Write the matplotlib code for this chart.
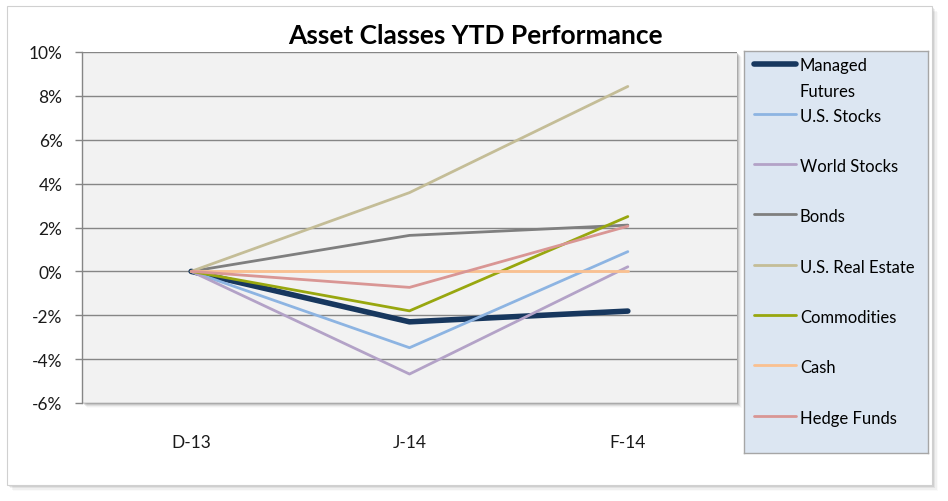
import matplotlib
matplotlib.use("Agg")
import matplotlib.pyplot as plt
from matplotlib.patches import Rectangle
from matplotlib.ticker import FuncFormatter, MultipleLocator

plt.rcParams['font.family'] = ['Lato', 'DejaVu Sans']

categories = ["D-13", "J-14", "F-14"]
series_names = ["Managed\nFutures", "U.S. Stocks", "World Stocks", "Bonds",
                "U.S. Real Estate", "Commodities", "Cash", "Hedge Funds"]
managed_futures = [0.0, -2.30, -1.81]
us_stocks = [0.0, -3.48, 0.90]
world_stocks = [0.0, -4.68, 0.21]
bonds = [0.0, 1.64, 2.11]
us_real_estate = [0.0, 3.59, 8.43]
commodities = [0.0, -1.80, 2.50]
cash = [0.0, 0.0, 0.0]
hedge_funds = [0.0, -0.73, 2.06]

values = [managed_futures, us_stocks, world_stocks, bonds,
          us_real_estate, commodities, cash, hedge_funds]
colors = ["#17375E", "#8DB4E2", "#B3A2C7", "#7F7F7F",
          "#C4BD97", "#98A70F", "#FAC090", "#D99694"]
widths = [4.0, 2.0, 2.0, 2.0, 2.0, 2.0, 2.0, 2.0]

W, H = 948, 502
fig = plt.figure(figsize=(W / 100, H / 100), dpi=100)
fig.patch.set_facecolor("white")

def fx(px):
    return px / W

def fy(py):
    return 1 - py / H

# outer chart frame shadow
for i, a in enumerate([0.10, 0.08, 0.06, 0.04, 0.02]):
    off = 1 + i * 1.2
    fig.patches.append(Rectangle((fx(7 + off), fy(486 + off)), fx(925), 479 / H,
                                 transform=fig.transFigure, facecolor="black",
                                 edgecolor="none", alpha=a, zorder=0))
fig.patches.append(Rectangle((fx(7), fy(486)), fx(925), 479 / H,
                             transform=fig.transFigure, facecolor="white",
                             edgecolor="#D0D0D0", linewidth=0.8, zorder=0.5))

# plot area shadow
for i, a in enumerate([0.14, 0.10, 0.07, 0.04, 0.02]):
    off = 1 + i * 1.0
    fig.patches.append(Rectangle((fx(82 + off), fy(404 + off)), fx(655), 351 / H,
                                 transform=fig.transFigure, facecolor="black",
                                 edgecolor="none", alpha=a, zorder=0.6))

ax = fig.add_axes([fx(82), fy(404), fx(655), 351 / H], zorder=2)
ax.set_facecolor("#F2F2F2")
x = list(range(len(categories)))
for i, (vals, c, lw) in enumerate(zip(values, colors, widths)):
    ax.plot(x, vals, color=c, linewidth=lw, solid_capstyle="round",
            solid_joinstyle="round", zorder=3 + i)

ax.set_xlim(-0.5, len(categories) - 0.5)
ax.set_ylim(-6, 10)
ax.yaxis.set_major_locator(MultipleLocator(2))
ax.yaxis.set_major_formatter(FuncFormatter(lambda v, p: f"{v:.0f}%"))
ax.set_xticks(x)
ax.set_xticklabels(categories)
ax.grid(axis="y", color="#868686", linewidth=1.0, zorder=1)
ax.set_axisbelow(True)
for s in ["top", "right", "bottom"]:
    ax.spines[s].set_visible(False)
ax.spines["left"].set_color("#868686")
ax.spines["left"].set_linewidth(1.0)
ax.tick_params(axis="y", length=5, color="#868686", width=1.0, pad=9,
               labelsize=12.5, labelcolor="#1a1a1a")
ax.tick_params(axis="x", length=0, pad=22, labelsize=12.5, labelcolor="#1a1a1a")

fig.text(fx(475), fy(36), "Asset Classes YTD Performance", ha="center",
         va="center", fontsize=19, fontweight="bold", color="black")

# legend box
lx0, lx1, ly0, ly1 = 744, 928, 52, 454
lax = fig.add_axes([fx(lx0), fy(ly1), fx(lx1 - lx0), (ly1 - ly0) / H], zorder=3)
lax.set_xlim(lx0, lx1)
lax.set_ylim(ly1, ly0)
lax.set_facecolor("#DCE6F2")
for s in lax.spines.values():
    s.set_color("#A6A6A6")
    s.set_linewidth(1.0)
lax.set_xticks([])
lax.set_yticks([])
step = 50.3
for i, (name, c, lw) in enumerate(zip(series_names, colors, widths)):
    yy = 64.5 + i * step
    lax.plot([754, 796], [yy, yy], color=c, linewidth=lw, solid_capstyle="round")
    lax.text(800, yy - 6, name, ha="left", va="top", fontsize=12,
             color="black", linespacing=1.7)

fig.savefig("out.png", dpi=100)
